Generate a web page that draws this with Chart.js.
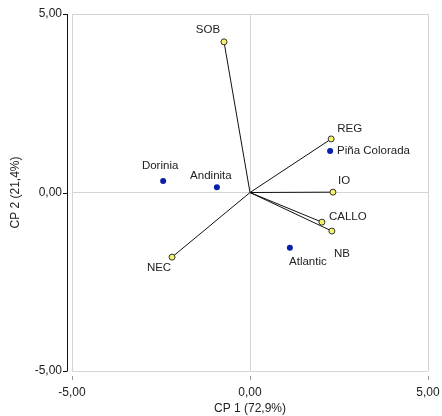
<!DOCTYPE html>
<html>
<head>
<meta charset="utf-8">
<script src="https://cdn.jsdelivr.net/npm/chart.js@4/dist/chart.umd.min.js"></script>
<style>
  html, body { margin: 0; padding: 0; background: #fff; }
  #wrap { width: 442px; height: 416px; }
</style>
</head>
<body>
<div id="wrap"><canvas id="biplot"></canvas></div>
<script>
// variables (vectors) and samples
const varNames = ['SOB', 'REG', 'IO', 'CALLO', 'NB', 'NEC'];
const varX = [-0.73, 2.28, 2.33, 2.02, 2.30, -2.19];
const varY = [4.22, 1.50, 0.01, -0.83, -1.08, -1.81];

const sampleNames = ['Dorinia', 'Andinita', 'Piña Colorada', 'Atlantic'];
const sampleX = [-2.44, -0.93, 2.25, 1.12];
const sampleY = [0.32, 0.15, 1.16, -1.55];

const axisTicks = [-5, 0, 5];
const xTitle = 'CP 1 (72,9%)';
const yTitle = 'CP 2 (21,4%)';

// label placement relative to the point (px)
const varLabelPos = {
  SOB: [-16, -12, 'center'], REG: [6, -10, 'left'], IO: [5, -11, 'left'],
  CALLO: [7, -5, 'left'], NB: [2, 23, 'left'], NEC: [-13, 11, 'center']
};
const sampleLabelPos = {
  'Dorinia': [-3, -15, 'center'], 'Andinita': [-6, -11, 'center'],
  'Piña Colorada': [7, 0, 'left'], 'Atlantic': [18, 14, 'center']
};

const fontFam = '"Liberation Sans", Arial, sans-serif';
const txtCol = '#222';
const fmt = v => v.toFixed(2).replace('.', ',');

const datasets = [];
varNames.forEach((n, i) => {
  datasets.push({
    type: 'line', data: [{ x: 0, y: 0 }, { x: varX[i], y: varY[i] }],
    borderColor: '#111', borderWidth: 1, pointRadius: 0, order: 3
  });
});
datasets.push({
  label: 'vars', data: varX.map((x, i) => ({ x, y: varY[i] })),
  pointRadius: 3, pointBackgroundColor: '#f4f36a', pointBorderColor: '#333',
  pointBorderWidth: 1, order: 1
});
datasets.push({
  label: 'samples', data: sampleX.map((x, i) => ({ x, y: sampleY[i] })),
  pointRadius: 3, pointBackgroundColor: '#0a1fa8', pointBorderColor: '#0a1fa8',
  pointBorderWidth: 0, order: 2
});

const extras = {
  id: 'extras',
  afterDatasetsDraw(chart) {
    const { ctx, chartArea: a, scales: { x, y } } = chart;
    ctx.save();
    // y axis line, offset from frame
    ctx.strokeStyle = '#111';
    ctx.lineWidth = 1;
    ctx.beginPath();
    ctx.moveTo(67.5, a.top);
    ctx.lineTo(67.5, a.bottom);
    axisTicks.forEach(t => {
      const py = Math.round(y.getPixelForValue(t)) + 0.5;
      ctx.moveTo(63, py);
      ctx.lineTo(67.5, py);
    });
    ctx.stroke();
    // x tick marks below frame
    ctx.strokeStyle = '#999';
    ctx.beginPath();
    axisTicks.forEach(t => {
      const px = Math.round(x.getPixelForValue(t)) + 0.5;
      ctx.moveTo(px, a.bottom + 5);
      ctx.lineTo(px, a.bottom + 9);
    });
    ctx.stroke();
    // point labels
    ctx.font = '11.5px ' + fontFam;
    ctx.fillStyle = txtCol;
    ctx.textBaseline = 'middle';
    const lab = (name, vx, vy, pos) => {
      ctx.textAlign = pos[2];
      ctx.fillText(name, x.getPixelForValue(vx) + pos[0], y.getPixelForValue(vy) + pos[1]);
    };
    varNames.forEach((n, i) => lab(n, varX[i], varY[i], varLabelPos[n]));
    sampleNames.forEach((n, i) => lab(n, sampleX[i], sampleY[i], sampleLabelPos[n]));
    ctx.restore();
  }
};

new Chart(document.getElementById('biplot'), {
  type: 'scatter',
  data: { datasets },
  plugins: [extras],
  options: {
    responsive: true,
    maintainAspectRatio: false,
    animation: false,
    layout: { padding: { left: 0, right: 14, top: 14, bottom: 0 } },
    plugins: { legend: { display: false }, tooltip: { enabled: false } },
    scales: {
      x: {
        min: -5, max: 5,
        afterBuildTicks: s => { s.ticks = axisTicks.map(v => ({ value: v })); },
        afterFit: s => { s.height = 45; s.paddingLeft = 0; s.paddingRight = 0; },
        grid: { color: '#d4d4d4', lineWidth: 1, drawTicks: false },
        border: { display: false },
        ticks: { padding: 14, color: txtCol, font: { family: fontFam, size: 12 }, callback: v => fmt(v), maxRotation: 0 },
        title: { display: true, text: xTitle, color: txtCol, font: { family: fontFam, size: 12 }, padding: { top: 4, bottom: 0 } }
      },
      y: {
        min: -5, max: 5,
        afterBuildTicks: s => { s.ticks = axisTicks.map(v => ({ value: v })); },
        afterFit: s => { s.width = 72; s.paddingTop = 0; s.paddingBottom = 0; },
        grid: { color: '#d4d4d4', lineWidth: 1, drawTicks: false },
        border: { display: false },
        ticks: { padding: 10, color: txtCol, font: { family: fontFam, size: 12 }, callback: v => fmt(v) },
        title: { display: true, text: yTitle, color: txtCol, font: { family: fontFam, size: 12 }, padding: { top: 8, bottom: 0 } }
      }
    }
  }
});
</script>
</body>
</html>
